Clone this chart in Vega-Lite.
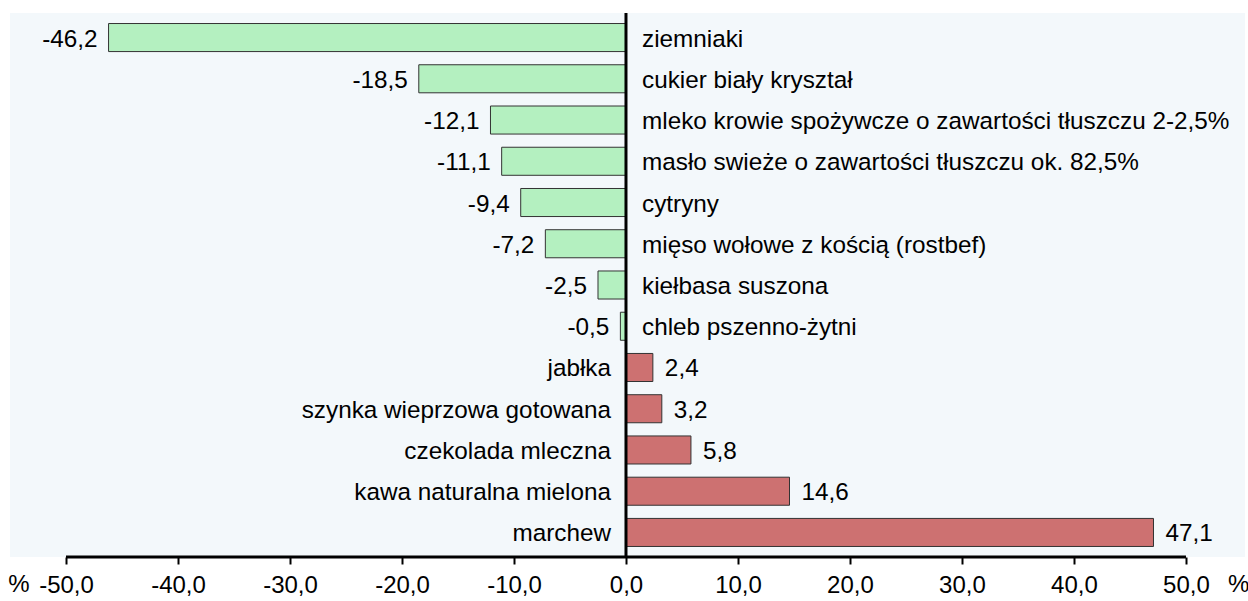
{
  "$schema": "https://vega.github.io/schema/vega-lite/v6.json",
  "autosize": "none",
  "width": 1235,
  "height": 544,
  "padding": {"left": 10, "top": 13, "right": 3, "bottom": 44},
  "background": "white",
  "config": {
    "view": {"fill": "#f3f8fb", "stroke": null},
    "locale": {"number": {"decimal": ",", "thousands": " ", "grouping": [3], "currency": ["", " zł"], "minus": "-"}},
    "text": {"font": "Liberation Sans", "fontSize": 24.3, "color": "#000000"},
    "axis": {"labelFont": "Liberation Sans"}
  },
  "datasets": {
    "bars": [
      {"name": "ziemniaki", "value": -46.2},
      {"name": "cukier biały kryształ", "value": -18.5},
      {"name": "mleko krowie spożywcze o zawartości tłuszczu 2-2,5%", "value": -12.1},
      {"name": "masło swieże o zawartości tłuszczu ok. 82,5%", "value": -11.1},
      {"name": "cytryny", "value": -9.4},
      {"name": "mięso wołowe z kością (rostbef)", "value": -7.2},
      {"name": "kiełbasa suszona", "value": -2.5},
      {"name": "chleb pszenno-żytni", "value": -0.5},
      {"name": "jabłka", "value": 2.4},
      {"name": "szynka wieprzowa gotowana", "value": 3.2},
      {"name": "czekolada mleczna", "value": 5.8},
      {"name": "kawa naturalna mielona", "value": 14.6},
      {"name": "marchew", "value": 47.1}
    ],
    "pct": [
      {"pos": -54.2, "t": "%"},
      {"pos": 54.7, "t": "%"}
    ],
    "axisline": [
      {"from": -50, "to": 50}
    ]
  },
  "layer": [
    {
      "data": {"name": "bars"},
      "mark": {"type": "bar", "stroke": "#333333", "strokeWidth": 1},
      "encoding": {
        "y": {"field": "name", "type": "nominal", "sort": null,
              "scale": {"paddingInner": 0.32, "paddingOuter": 0.255}, "axis": null},
        "x": {"field": "value", "type": "quantitative",
              "scale": {"domain": [-55, 55.27], "nice": false, "zero": false},
              "axis": {"values": [-50, -40, -30, -20, -10, 0, 10, 20, 30, 40, 50],
                       "format": ".1f", "domain": false, "grid": false, "title": null,
                       "tickColor": "#000000", "tickWidth": 2, "tickSize": 7,
                       "labelFontSize": 24, "labelColor": "#000000", "labelPadding": 9,
                       "labelFlush": false, "labelOverlap": false}},
        "color": {"condition": {"test": "datum.value < 0", "value": "#b4f0c0"}, "value": "#cd7171"}
      }
    },
    {
      "data": {"name": "bars"},
      "transform": [{"filter": "datum.value < 0"}],
      "mark": {"type": "text", "align": "right", "baseline": "middle", "dx": -11, "dy": 2},
      "encoding": {
        "y": {"field": "name", "type": "nominal", "sort": null},
        "x": {"field": "value", "type": "quantitative"},
        "text": {"field": "value", "type": "quantitative", "format": ".1f"}
      }
    },
    {
      "data": {"name": "bars"},
      "transform": [{"filter": "datum.value < 0"}],
      "mark": {"type": "text", "align": "left", "baseline": "middle", "dx": 16, "dy": 2},
      "encoding": {
        "y": {"field": "name", "type": "nominal", "sort": null},
        "x": {"datum": 0},
        "text": {"field": "name"}
      }
    },
    {
      "data": {"name": "bars"},
      "transform": [{"filter": "datum.value > 0"}],
      "mark": {"type": "text", "align": "left", "baseline": "middle", "dx": 12, "dy": 2},
      "encoding": {
        "y": {"field": "name", "type": "nominal", "sort": null},
        "x": {"field": "value", "type": "quantitative"},
        "text": {"field": "value", "type": "quantitative", "format": ".1f"}
      }
    },
    {
      "data": {"name": "bars"},
      "transform": [{"filter": "datum.value > 0"}],
      "mark": {"type": "text", "align": "right", "baseline": "middle", "dx": -15, "dy": 2},
      "encoding": {
        "y": {"field": "name", "type": "nominal", "sort": null},
        "x": {"datum": 0},
        "text": {"field": "name"}
      }
    },
    {
      "data": {"name": "axisline"},
      "mark": {"type": "rule", "stroke": "#000000", "strokeWidth": 3},
      "encoding": {
        "x": {"datum": 0}
      }
    },
    {
      "data": {"name": "axisline"},
      "mark": {"type": "rule", "stroke": "#000000", "strokeWidth": 3},
      "encoding": {
        "x": {"field": "from", "type": "quantitative"},
        "x2": {"field": "to"},
        "y": {"value": "height"}
      }
    },
    {
      "data": {"name": "pct"},
      "mark": {"type": "text", "align": "center", "baseline": "alphabetic", "dy": 35, "fontSize": 24},
      "encoding": {
        "x": {"field": "pos", "type": "quantitative"},
        "y": {"value": "height"},
        "text": {"field": "t"}
      }
    }
  ]
}
